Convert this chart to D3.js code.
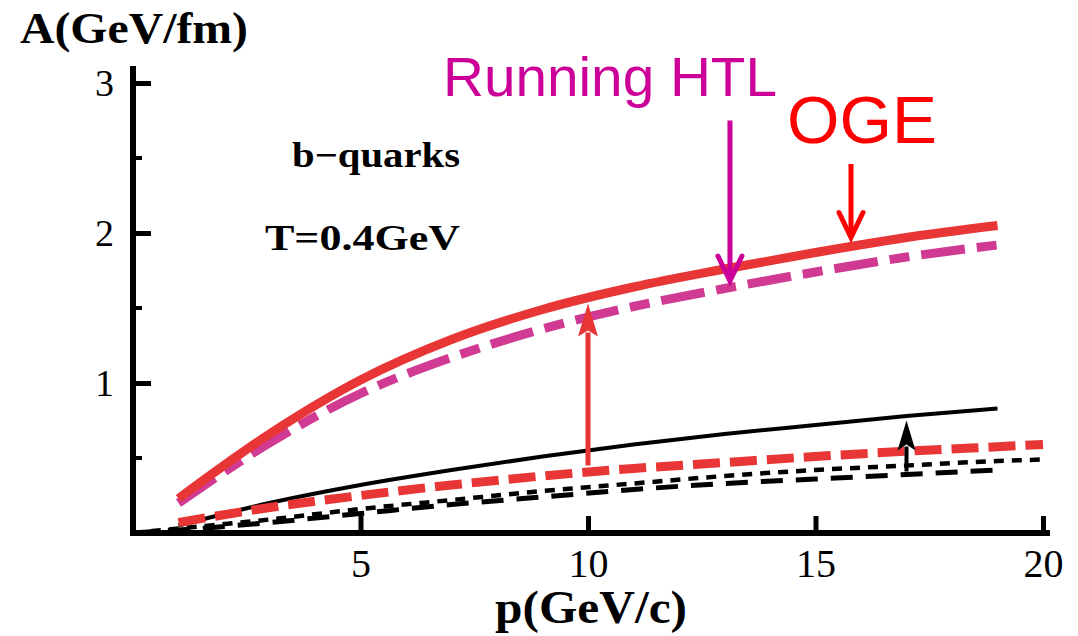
<!DOCTYPE html>
<html><head><meta charset="utf-8">
<script src="https://cdn.jsdelivr.net/npm/d3@7"></script>
<style>html,body{margin:0;padding:0;background:#fff;}svg{display:block;}</style>
</head><body>
<svg id="c" width="1078" height="636"></svg>
<script>
// ---- data ----
const pOGE   = [1, 3, 5, 7, 9, 11, 13, 15, 17, 19];
const aOGE   = [0.23, 0.66, 1.02, 1.29, 1.49, 1.64, 1.76, 1.87, 1.97, 2.05];
const pHTL   = [1, 3, 5, 7, 9, 11, 13, 15, 17, 19];
const aHTL   = [0.20, 0.60, 0.93, 1.17, 1.36, 1.51, 1.63, 1.74, 1.84, 1.92];
const pBlk   = [1, 3, 5, 7, 9, 11, 13, 15, 17, 19];
const aBlk   = [0.05, 0.20, 0.32, 0.42, 0.51, 0.59, 0.66, 0.72, 0.78, 0.83];
const pRedD  = [1, 3, 5, 7, 9, 11, 13, 15, 17, 19, 20];
const aRedD  = [0.07, 0.17, 0.25, 0.32, 0.38, 0.43, 0.47, 0.51, 0.545, 0.575, 0.59];
const pDot   = [0, 1, 3, 5, 7, 9, 11, 13, 15, 17, 19, 20];
const aDot   = [0, 0.03, 0.09, 0.16, 0.22, 0.28, 0.33, 0.38, 0.42, 0.45, 0.48, 0.49];
const pDash  = [0, 1, 3, 5, 7, 9, 11, 13, 15, 17, 19];
const aDash  = [0, 0.02, 0.07, 0.13, 0.19, 0.24, 0.29, 0.33, 0.36, 0.39, 0.42];
const xTicks = [5, 10, 15, 20];
const yTicks = [1, 2, 3];
const yMinor = [0.5, 1.5, 2.5];
// arrows: [p, A_from, A_to]
const arrowHTL = [13.12, 2.75, 1.68];
const arrowOGE = [15.78, 2.46, 1.97];
const arrowRed = [10.0, 0.45, 1.53];
const arrowBlk = [17.0, 0.41, 0.75];

const svg = d3.select('#c');
const x = d3.scaleLinear().domain([0, 20]).range([133, 1043]);
const y = d3.scaleLinear().domain([0, 3]).range([533, 83]);
const serif = "'Liberation Serif','Times New Roman',serif";
const sans = "'Liberation Sans',Arial,sans-serif";

const line = d3.line().x(d => x(d[0])).y(d => y(d[1])).curve(d3.curveMonotoneX);
function curve(ps, as, color, w, dash) {
  svg.append('path').datum(ps.map((p, i) => [p, as[i]]))
    .attr('d', line).attr('fill', 'none').attr('stroke', color)
    .attr('stroke-width', w).attr('stroke-dasharray', dash || null);
}
curve(pDash, aDash, '#000', 5, '22 13');
curve(pDot, aDot, '#000', 4.5, '10 8');
curve(pBlk, aBlk, '#000', 4, null);
curve(pRedD, aRedD, '#e83535', 9, '27 10');
curve(pHTL, aHTL, '#d13a93', 9, '44 12 20 12');
curve(pOGE, aOGE, '#e83535', 9, null);

// axes
const gx = svg.append('g').attr('transform', `translate(0,${y(0)})`)
  .call(d3.axisBottom(x).tickValues(xTicks).tickSizeInner(-17).tickSizeOuter(0).tickFormat(d3.format('d')));
gx.select('.domain').remove();
gx.selectAll('.tick line').attr('stroke', '#000').attr('stroke-width', 5);
gx.selectAll('.tick text').attr('y', 44).attr('dy', 0).attr('font-family', serif).attr('font-size', 40).attr('fill', '#000');

const gy = svg.append('g').attr('transform', `translate(${x(0)},0)`)
  .call(d3.axisLeft(y).tickValues(yTicks).tickSizeInner(-18).tickSizeOuter(0).tickFormat(d3.format('d')));
gy.select('.domain').remove();
gy.selectAll('.tick line').attr('stroke', '#000').attr('stroke-width', 5);
gy.selectAll('.tick text').attr('x', -19).attr('dy', '0.34em').attr('font-family', serif).attr('font-size', 38).attr('fill', '#000');
gy.selectAll('.minor').data(yMinor).enter().append('line')
  .attr('x1', 0).attr('x2', 9).attr('y1', d => y(d)).attr('y2', d => y(d))
  .attr('stroke', '#000').attr('stroke-width', 4);

svg.append('line').attr('x1', 130).attr('x2', 1050).attr('y1', y(0)).attr('y2', y(0))
  .attr('stroke', '#000').attr('stroke-width', 6);
svg.append('line').attr('x1', x(0)).attr('x2', x(0)).attr('y1', 66).attr('y2', y(0) + 3)
  .attr('stroke', '#000').attr('stroke-width', 6);

// arrows
function openArrow(a, color) {
  const xs = x(a[0]), y0 = y(a[1]), y1 = y(a[2]);
  svg.append('line').attr('x1', xs).attr('x2', xs).attr('y1', y0).attr('y2', y1 - 3)
    .attr('stroke', color).attr('stroke-width', 5);
  svg.append('path').attr('d', `M${xs - 12},${y1 - 25}L${xs},${y1}L${xs + 12},${y1 - 25}`)
    .attr('fill', 'none').attr('stroke', color).attr('stroke-width', 5).attr('stroke-linecap', 'round');
}
function filledArrow(a, color, w, hw, hl) {
  const xs = x(a[0]), y0 = y(a[1]), y1 = y(a[2]);
  svg.append('line').attr('x1', xs).attr('x2', xs).attr('y1', y0).attr('y2', y1 + hl - 4)
    .attr('stroke', color).attr('stroke-width', w);
  svg.append('path').attr('d', `M${xs},${y1}L${xs - hw / 2},${y1 + hl}L${xs},${y1 + hl - 6}L${xs + hw / 2},${y1 + hl}Z`)
    .attr('fill', color);
}
openArrow(arrowHTL, '#cc0099');
openArrow(arrowOGE, '#ff0000');
filledArrow(arrowRed, '#e83535', 5, 20, 33);
filledArrow(arrowBlk, '#000', 4, 18, 30);

// texts
function txt(s, x0, yb, size, fam, weight, color, len) {
  const t = svg.append('text').text(s).attr('x', x0).attr('y', yb)
    .attr('font-family', fam).attr('font-size', size).attr('font-weight', weight).attr('fill', color);
  if (len) t.attr('textLength', len).attr('lengthAdjust', 'spacingAndGlyphs');
  return t;
}
txt('A(GeV/fm)', 20, 43, 44, serif, 'bold', '#000', 228);
txt('p(GeV/c)', 495, 623, 46, serif, 'bold', '#000', 192);
txt('b\u2212quarks', 292, 167, 35, serif, 'bold', '#000', 168);
txt('T=0.4GeV', 265, 250, 35, serif, 'bold', '#000', 195);
txt('Running HTL', 443, 96, 56, sans, 'normal', '#cc0099', 334);
txt('OGE', 787, 143, 66, sans, 'normal', '#ff0000', 150);
</script>
</body></html>
